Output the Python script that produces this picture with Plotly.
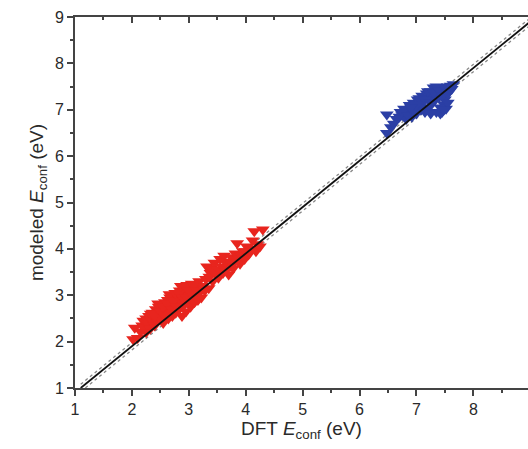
import plotly.graph_objects as go

red_x = [2.02, 2.05, 2.10, 2.15, 2.18, 2.20, 2.22, 2.25, 2.28, 2.30, 2.32, 2.35, 2.36, 2.38, 2.40,
         2.42, 2.44, 2.45, 2.47, 2.48, 2.50, 2.52, 2.53, 2.55, 2.56, 2.58, 2.60, 2.61, 2.63, 2.64,
         2.65, 2.67, 2.68, 2.70, 2.71, 2.72, 2.74, 2.75, 2.77, 2.78, 2.80, 2.81, 2.83, 2.84, 2.85,
         2.87, 2.88, 2.90, 2.91, 2.92, 2.94, 2.95, 2.97, 2.98, 3.00, 3.02, 3.03, 3.05, 3.06, 3.08,
         3.10, 3.12, 3.15, 3.18, 3.20, 3.22, 3.25, 3.30, 3.32, 3.35, 3.38, 3.40, 3.42, 3.45, 3.48,
         3.50, 3.52, 3.55, 3.58, 3.60, 3.62, 3.65, 3.68, 3.70, 3.72, 3.75, 3.78, 3.80, 3.82, 3.85,
         3.88, 3.90, 3.95, 3.98, 4.02, 4.05, 4.10, 4.12, 4.15, 4.18, 4.20, 4.25, 4.30,
         2.25, 2.33, 2.40, 2.46, 2.50, 2.55, 2.58, 2.62, 2.66, 2.70, 2.73, 2.76, 2.79, 2.82, 2.86,
         2.89, 2.93, 2.96, 2.99, 3.04, 3.08, 3.14, 3.16, 3.28, 3.36, 3.44, 3.56, 3.64, 3.74, 3.92,
         4.00]
red_y = [2.05, 2.30, 2.08, 2.22, 2.35, 2.45, 2.30, 2.50, 2.38, 2.55, 2.28, 2.45, 2.62, 2.52, 2.35,
         2.70, 2.58, 2.45, 2.75, 2.62, 2.50, 2.80, 2.68, 2.40, 2.58, 2.85, 2.72, 2.62, 2.90, 2.50,
         2.78, 2.95, 2.66, 2.85, 2.55, 3.00, 2.75, 2.92, 2.62, 3.05, 2.82, 2.95, 2.70, 3.10, 2.88,
         3.00, 2.55, 3.15, 2.78, 2.92, 3.05, 2.65, 3.22, 2.85, 3.00, 3.12, 2.75, 3.25, 2.92, 3.05,
         2.85, 3.18, 3.00, 3.30, 3.10, 2.95, 3.20, 3.35, 3.62, 3.15, 3.48, 3.58, 3.30, 3.70, 3.45,
         3.55, 3.38, 3.78, 3.62, 3.48, 3.85, 3.55, 3.70, 3.45, 3.62, 3.82, 3.58, 3.72, 3.90, 4.12,
         3.80, 3.68, 3.95, 3.78, 4.05, 3.88, 4.00, 4.18, 4.38, 3.95, 4.10, 4.05, 4.42,
         2.20, 2.60, 2.55, 2.82, 2.65, 2.75, 2.55, 2.82, 3.02, 2.70, 2.88, 3.05, 2.75, 3.05, 3.20,
         2.95, 3.20, 2.95, 3.10, 3.05, 3.22, 3.10, 2.90, 3.10, 3.40, 3.50, 3.50, 3.72, 3.70, 3.85,
         3.95]

blue_x = [6.48, 6.48, 6.55, 6.70, 6.72, 6.75, 6.78, 6.80, 6.82, 6.85, 6.88, 6.90, 6.92, 6.95, 6.97,
          7.00, 7.02, 7.05, 7.08, 7.10, 7.12, 7.15, 7.18, 7.20, 7.22, 7.25, 7.28, 7.30, 7.32, 7.35,
          7.38, 7.40, 7.42, 7.45, 7.48, 7.50, 7.52, 7.55, 7.58, 7.62, 7.65, 7.45, 7.35, 7.25, 7.50,
          6.75, 6.85, 6.95, 7.05, 7.10, 7.15, 7.20, 7.25, 7.30, 7.35, 7.40, 7.45, 7.50, 7.55, 7.60,
          7.42, 7.55, 7.48, 7.00, 6.90, 6.65, 6.60]
blue_y = [6.90, 6.50, 6.62, 6.85, 6.95, 6.88, 7.02, 6.90, 6.80, 7.00, 7.10, 6.95, 6.85, 7.15, 7.05,
          6.92, 7.22, 7.10, 7.00, 7.30, 7.18, 6.95, 7.35, 7.25, 7.05, 7.40, 7.30, 7.48, 7.20, 7.38,
          7.48, 7.28, 6.92, 7.45, 7.12, 7.35, 7.02, 7.50, 7.40, 7.45, 7.55, 6.95, 6.95, 6.92, 7.22,
          6.95, 6.88, 6.95, 7.25, 7.05, 7.22, 7.40, 7.15, 7.38, 7.50, 7.42, 7.30, 7.48, 7.35, 7.52,
          7.05, 7.15, 7.00, 7.10, 7.05, 6.80, 6.70]

fit_x = [1.1, 9.1]
fit_y = [1.0, 9.0]
band_offset = 0.08

x_ticks = [1, 2, 3, 4, 5, 6, 7, 8, 9]
y_ticks = [1, 2, 3, 4, 5, 6, 7, 8, 9]

FONT = "Liberation Sans, Arial, sans-serif"

fig = go.Figure()
for off in (band_offset, -band_offset):
    fig.add_trace(go.Scatter(x=fit_x, y=[v + off for v in fit_y], mode="lines",
                             line=dict(color="#888888", width=1.3, dash="dot"),
                             showlegend=False, hoverinfo="skip"))
fig.add_trace(go.Scatter(x=red_x, y=red_y, mode="markers",
                         marker=dict(symbol="triangle-down", size=12, color="#e8251e"),
                         showlegend=False))
fig.add_trace(go.Scatter(x=blue_x, y=blue_y, mode="markers",
                         marker=dict(symbol="triangle-down", size=12, color="#2b3fa5"),
                         showlegend=False))
fig.add_trace(go.Scatter(x=fit_x, y=fit_y, mode="lines",
                         line=dict(color="#111111", width=1.8),
                         showlegend=False, hoverinfo="skip"))

axis_common = dict(showgrid=False, zeroline=False, showline=True, linecolor="#444444",
                   linewidth=2, ticks="outside", tickcolor="#444444", tickwidth=2, ticklen=6,
                   tickfont=dict(family=FONT, size=16, color="#2a2a2a"),
                   minor=dict(ticks="outside", ticklen=3, tickcolor="#444444", tickwidth=2, dtick=0.5))

fig.update_layout(
    width=528, height=449,
    margin=dict(l=75, r=0, t=17, b=61),
    plot_bgcolor="white", paper_bgcolor="white",
    xaxis=dict(range=[1, 8.96], tickvals=x_ticks, mirror=False,
               title=dict(text="DFT <i>E</i><sub>conf</sub> (eV)", standoff=4,
                          font=dict(family=FONT, size=19, color="#2a2a2a")),
               **axis_common),
    yaxis=dict(range=[1, 9], tickvals=y_ticks, mirror=False,
               title=dict(text="modeled <i>E</i><sub>conf</sub> (eV)", standoff=6,
                          font=dict(family=FONT, size=19, color="#2a2a2a")),
               **axis_common),
    xaxis2=dict(overlaying="x", side="top", range=[1, 8.96], tickvals=x_ticks,
                showticklabels=False, showgrid=False, zeroline=False, showline=True,
                linecolor="#444444", linewidth=2, ticks="inside", tickcolor="#444444",
                tickwidth=2, ticklen=6,
                minor=dict(ticks="inside", ticklen=3, tickcolor="#444444", tickwidth=2, dtick=0.5)),
)
fig.add_trace(go.Scatter(x=[None], y=[None], xaxis="x2", showlegend=False))

fig.write_html("out.html", config={"displayModeBar": False},
               post_script="document.body.style.margin='0';document.body.style.overflow='hidden';")
